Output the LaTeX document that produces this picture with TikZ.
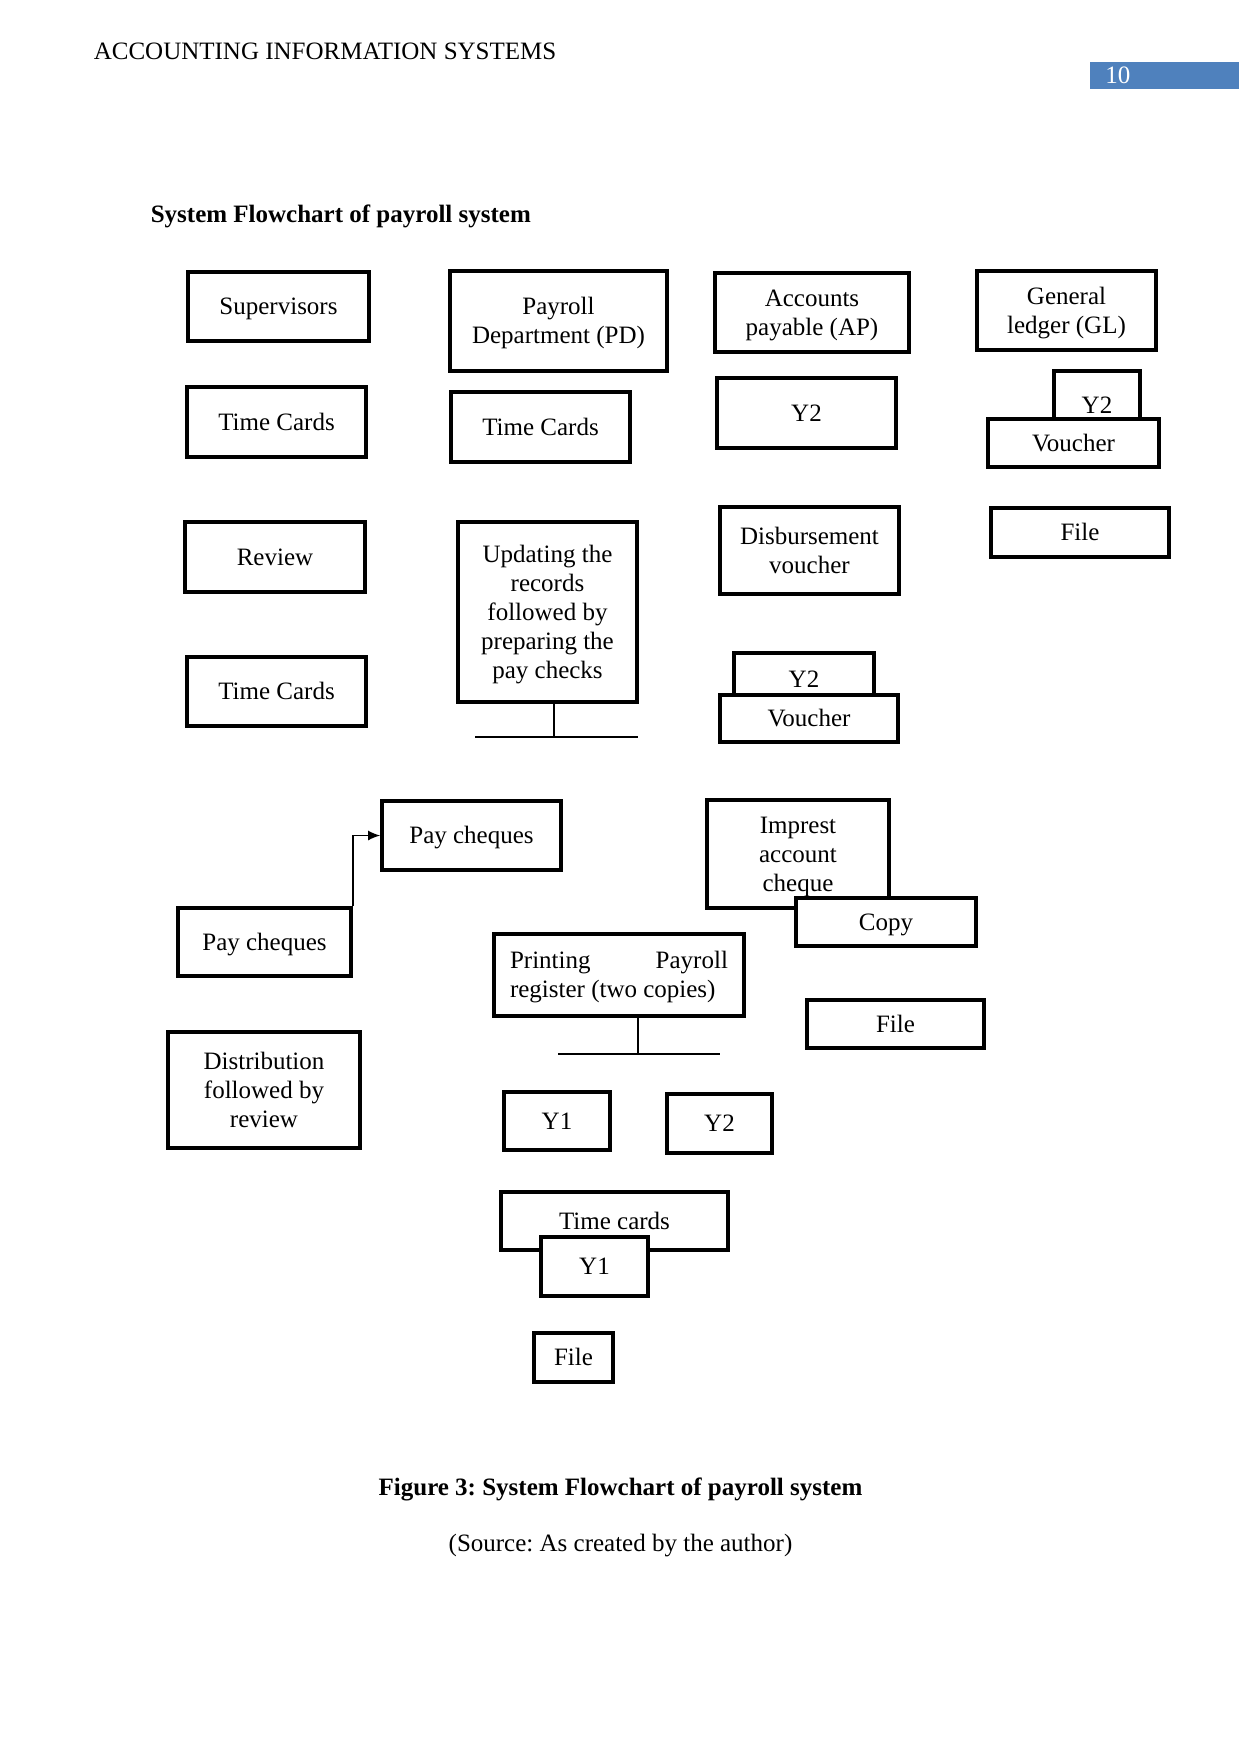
\documentclass[tikz,border=0pt]{standalone}
\usepackage{fontspec}
\setmainfont{Liberation Serif}
\usetikzlibrary{arrows.meta}
\frenchspacing
\definecolor{pgblue}{RGB}{79,129,189}
\newcommand{\wstrut}{\rule[-2.6pt]{0pt}{13.3pt}}
\newcommand{\pbox}[6]{\node[box, minimum width={(#4-#2)*0.48pt}, minimum height={(#5-#3)*0.48pt}] (#1) at ({(#2+#4)/2},{(#3+#5)/2}) {\wstrut#6\wstrut};}
\begin{document}
\begin{tikzpicture}[x=0.48pt, y=-0.48pt,
  box/.style={draw, line width=1.8pt, fill=white, inner sep=0pt, align=center,
    font=\fontsize{12}{13.9}\selectfont},
  conn/.style={line width=0.6pt},
  plain/.style={inner sep=0pt, font=\fontsize{12}{13.9}\selectfont}]
\useasboundingbox (0,0) rectangle (1241,1754);
% header
\node[plain, anchor=base west] (hdr) at (93.4,59.3) {ACCOUNTING INFORMATION SYSTEMS};
\fill[pgblue] (1090,62) rectangle (1239,89);
\node[plain, anchor=base west, text=white] (pgno) at (1105,83.3) {10};
\node[plain, anchor=base west, font=\fontsize{12}{13.9}\selectfont\bfseries] (title) at (150.4,222.7) {System Flowchart of payroll system};
% boxes
\pbox{sup}{188}{272}{369}{341}{Supervisors}
\pbox{pd}{450}{271}{667}{371}{Payroll\\Department (PD)}
\pbox{tc1}{187}{387}{366}{457}{Time Cards}
\pbox{tc2}{451}{392}{630}{462}{Time Cards}
\pbox{rev}{185}{522}{365}{592}{Review}
\pbox{upd}{458}{522}{637}{702}{Updating the\\records\\followed by\\preparing the\\pay checks}
\pbox{tc3}{187}{657}{366}{726}{Time Cards}
\pbox{ap}{715}{273}{909}{352}{Accounts\\payable (AP)}
\pbox{gl}{977}{271}{1156}{350}{General\\ledger (GL)}
\pbox{ya}{717}{378}{896}{448}{Y2}
\pbox{gly}{1054}{371}{1140}{439}{Y2}
\pbox{glv}{988}{419}{1159}{467}{Voucher}
\pbox{glf}{991}{508}{1169}{557}{File}
\pbox{dv}{720}{507}{899}{594}{Disbursement\\voucher}
\pbox{by}{734}{653}{874}{705}{Y2}
\pbox{bv}{720}{695}{898}{742}{Voucher}
\pbox{pct}{382}{801}{561}{870}{Pay cheques}
\pbox{pcl}{178}{908}{351}{976}{Pay cheques}
\pbox{imp}{707}{800}{889}{908}{Imprest\\account\\cheque}
\pbox{cp}{796}{898}{976}{946}{Copy}
\pbox{ppr}{494}{934}{744}{1016}{\parbox{104.6pt}{\wstrut Printing\hfill Payroll\\register (two copies)\wstrut}}
\pbox{fm}{807}{1000}{984}{1048}{File}
\pbox{ya1}{504}{1092}{610}{1150}{Y1}
\pbox{ya2}{667}{1094}{772}{1153}{Y2}
\pbox{dist}{168}{1032}{360}{1148}{Distribution\\followed by\\review}
\pbox{tcb}{501}{1192}{728}{1250}{Time cards}
\pbox{yb1}{541}{1237}{648}{1296}{Y1}
\pbox{fb}{534}{1333}{613}{1382}{File}
% connectors
\coordinate (uj) at (554,737);
\coordinate (ul) at (475,737);
\coordinate (ur) at (638,737);
\draw[conn] (uj |- upd.south) -- (uj);
\draw[conn] (ul) -- (ur);
\coordinate (pj) at (638,1054);
\coordinate (pl) at (558,1054);
\coordinate (pr) at (720,1054);
\draw[conn] (pj |- ppr.south) -- (pj);
\draw[conn] (pl) -- (pr);
\draw[conn, -{Latex[length=5.8pt, width=4.8pt]}] (pcl.north east) |- (pct.west);
% caption
\node[plain, anchor=base, font=\fontsize{12}{13.9}\selectfont\bfseries] (cap) at (620.5,1495.7) {Figure 3: System Flowchart of payroll system};
\node[plain, anchor=base] (src) at (620.5,1551.5) {(Source: As created by the author)};
\end{tikzpicture}
\end{document}
